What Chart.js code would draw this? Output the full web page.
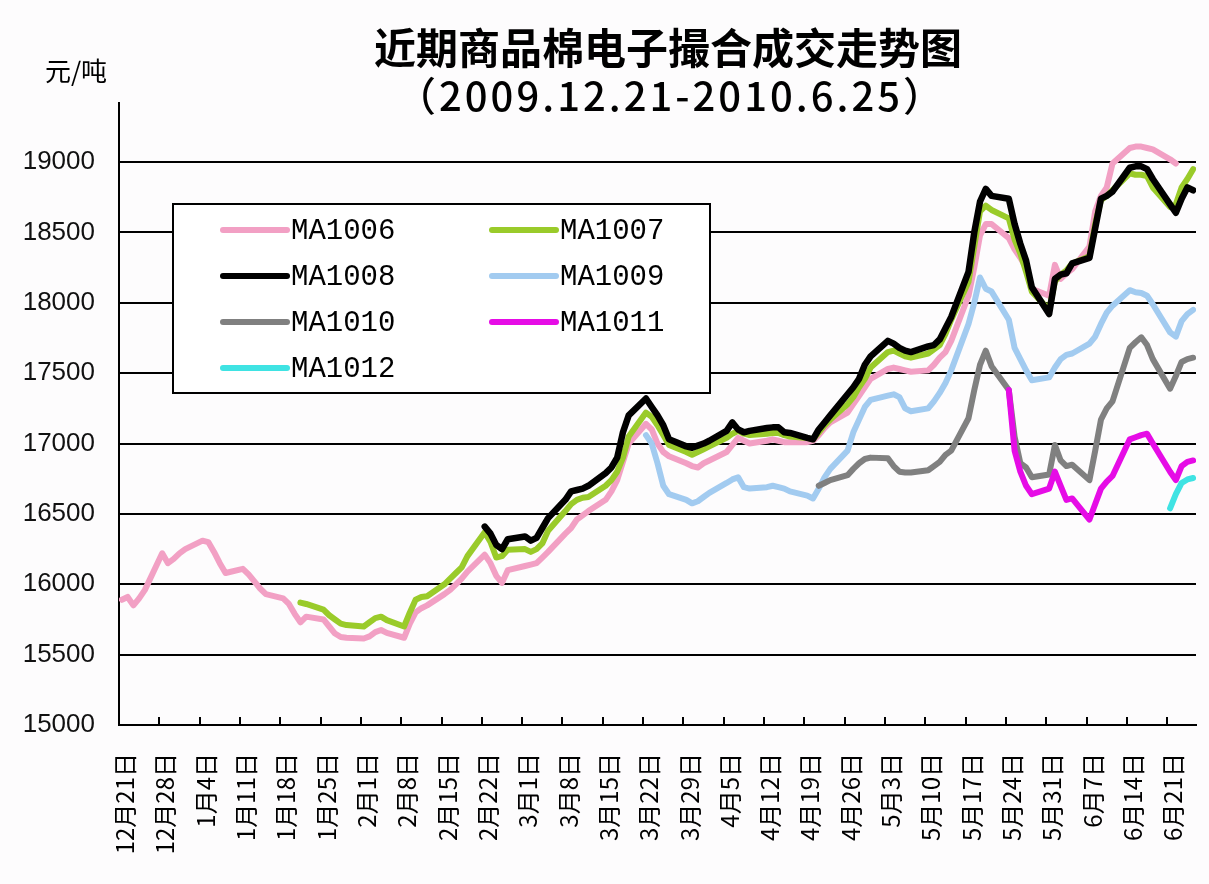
<!DOCTYPE html>
<html>
<head>
<meta charset="utf-8">
<title>近期商品棉电子撮合成交走势图</title>
<script src="https://cdn.jsdelivr.net/npm/chart.js@4.4.1/dist/chart.umd.min.js"></script>
<style>
  html, body { margin: 0; padding: 0; background: #fdfcfd; }
  #wrap { width: 1209px; height: 884px; position: relative; }
</style>
</head>
<body>
<div id="wrap"><canvas id="cotton"></canvas></div>
<script>
// 周一标签（每周5个交易日）
const weekLabels = ['12月21日', '12月28日', '1月4日', '1月11日', '1月18日', '1月25日', '2月1日',
  '2月8日', '2月15日', '2月22日', '3月1日', '3月8日', '3月15日', '3月22日', '3月29日', '4月5日',
  '4月12日', '4月19日', '4月26日', '5月3日', '5月10日', '5月17日', '5月24日', '5月31日',
  '6月7日', '6月14日', '6月21日'];

const yTickLabels = [15000, 15500, 16000, 16500, 17000, 17500, 18000, 18500, 19000];

const seriesNames = ['MA1006', 'MA1007', 'MA1008', 'MA1009', 'MA1010', 'MA1011', 'MA1012'];

function lead(n) { return new Array(n).fill(null); }

// 每行 = 一周（周一至周五），单位 元/吨
const ma1006 = [
  15890, 15910, 15850, 15900, 15960,
  16220, 16150, 16180, 16220, 16250,
  16310, 16300, 16230, 16150, 16080,
  16110, 16070, 16020, 15970, 15930,
  15900, 15860, 15790, 15730, 15770,
  15750, 15700, 15650, 15625, 15620,
  15615, 15630, 15660, 15675, 15655,
  15620, 15720, 15800, 15830, 15850,
  15930, 15960, 16000, 16040, 16090,
  16210, 16150, 16060, 16010, 16100,
  16130, 16140, 16150, 16190, 16230,
  16360, 16400, 16460, 16490, 16520,
  16600, 16660, 16740, 16870, 17000,
  17140, 17100, 17000, 16940, 16910,
  16860, 16840, 16830, 16860, 16880,
  16940, 16990, 17040, 17020, 17000,
  17020, 17030, 17020, 17010, 17010,
  17010, 17020, 17060, 17110, 17150,
  17220, 17280, 17340, 17400, 17460,
  17530, 17540, 17530, 17520, 17510,
  17520, 17560, 17610, 17650, 17730,
  18050, 18250, 18480, 18560, 18560,
  18460, 18380, 18320, 18250, 18100,
  18050, 18270, 18170, 18210, 18240,
  18400, 18650, 18760, 18820, 18990,
  19100, 19110, 19110, 19100, 19090,
  19020, 18990
];

const ma1007 = [
  ...lead(23), 15870, 15860,
  15820, 15780, 15750, 15720, 15710,
  15700, 15730, 15760, 15770, 15745,
  15700, 15800, 15890, 15910, 15915,
  16000, 16040, 16080, 16120, 16200,
  16370, 16300, 16190, 16200, 16245,
  16250, 16230, 16250, 16290, 16380,
  16520, 16570, 16600, 16615, 16620,
  16700, 16740, 16800, 16900, 17050,
  17220, 17190, 17130, 17060, 16990,
  16940, 16920, 16940, 16960, 16980,
  17040, 17070, 17090, 17070, 17060,
  17070, 17075, 17075, 17060, 17050,
  17040, 17030, 17080, 17130, 17170,
  17280, 17330, 17400, 17460, 17540,
  17650, 17660, 17640, 17620, 17610,
  17640, 17670, 17700, 17780, 17880,
  18150, 18400, 18650, 18690, 18660,
  18600, 18450, 18350, 18220, 18080,
  17950, 18150, 18200, 18230, 18280,
  18330, 18560, 18730, 18760, 18800,
  18920, 18910, 18910, 18900, 18820,
  18680, 18700, 18820, 18880, 18950
];

const ma1008 = [
  ...lead(45),
  16410, 16360, 16280, 16250, 16320,
  16340, 16310, 16330, 16400, 16470,
  16600, 16660, 16670, 16680, 16700,
  16790, 16830, 16900, 17080, 17200,
  17320, 17260, 17200, 17130, 17030,
  16980, 16970, 16985, 17000, 17020,
  17090, 17150, 17100, 17080, 17090,
  17110, 17115, 17115, 17080, 17075,
  17040, 17030, 17100, 17150, 17200,
  17350, 17400, 17460, 17560, 17620,
  17730, 17710, 17680, 17660, 17650,
  17690, 17700, 17740, 17820, 17900,
  18220, 18500, 18720, 18810, 18760,
  18740, 18560, 18420, 18300, 18110,
  17920, 18170, 18200, 18210, 18280,
  18320, 18530, 18740, 18760, 18790,
  18960, 18970, 18970, 18950, 18880,
  18700, 18640, 18740, 18820, 18800
];

const ma1009 = [
  ...lead(65),
  17060, 17000, 16860, 16700, 16640,
  16600, 16575, 16590, 16620, 16650,
  16720, 16745, 16760, 16690, 16680,
  16690, 16700, 16690, 16680, 16660,
  16630, 16610, 16680, 16760, 16820,
  16950, 17080, 17170, 17260, 17310,
  17340, 17350, 17330, 17250, 17230,
  17250, 17300, 17360, 17430, 17520,
  17850, 18000, 18180, 18100, 18080,
  17880, 17680, 17600, 17520, 17450,
  17470, 17540, 17600, 17630, 17640,
  17710, 17760, 17850, 17930, 17980,
  18090, 18075, 18070, 18050, 17990,
  17790, 17760, 17870, 17920, 17950
];

const ma1010 = [
  ...lead(87), 16700, 16720, 16740,
  16775, 16820, 16860, 16890, 16900,
  16895, 16840, 16800, 16795, 16795,
  16810, 16840, 16870, 16920, 16950,
  17180, 17380, 17560, 17660, 17550,
  17380, 17050, 16860, 16830, 16760,
  16780, 16990, 16880, 16840, 16850,
  16740, 16950, 17170, 17250, 17300,
  17680, 17720, 17755, 17700, 17600,
  17390, 17480, 17580, 17600, 17610
];

const ma1011 = [
  ...lead(110),
  17380, 16950, 16800, 16700, 16640,
  16680, 16800, 16700, 16600, 16610,
  16460, 16570, 16680, 16730, 16770,
  17030, 17045, 17060, 17070, 17000,
  16800, 16740, 16840, 16870, 16880
];

const ma1012 = [
  ...lead(130),
  16540, 16640, 16720, 16745, 16755
];

const seriesValues = [ma1006, ma1007, ma1008, ma1009, ma1010, ma1011, ma1012];

// 日历日偏移（自 2009-12-21 起），用于日期轴
const tradingDays = [];
weekLabels.forEach((_, w) => {
  for (let d = 0; d < 5; d++) tradingDays.push(w * 7 + d);
});

const lineColors = ['#f2a0c4', '#9acb2a', '#000000', '#a2cbf0', '#808080', '#e60ce6', '#3fe3e3'];

const datasets = seriesNames.map((name, i) => ({
  label: name,
  data: seriesValues[i].map((v, k) => ({ x: tradingDays[k], y: v })),
  borderColor: lineColors[i],
  backgroundColor: lineColors[i],
  borderWidth: i === 2 ? 6.5 : 6,
  pointRadius: 0,
  tension: 0,
  fill: false,
  spanGaps: false,
  borderJoinStyle: 'round',
  borderCapStyle: 'round',
  order: seriesNames.length - i
}));

// 标题与单位
const headerText = {
  id: 'headerText',
  afterDraw(chart) {
    const ctx = chart.ctx;
    ctx.save();
    ctx.fillStyle = '#000';
    ctx.textAlign = 'center';
    ctx.textBaseline = 'middle';
    ctx.font = 'bold 42px "Noto Sans CJK SC"';
    ctx.fillText('近期商品棉电子撮合成交走势图', 668, 48);
    ctx.font = '500 40px "Noto Sans CJK SC"';
    ctx.letterSpacing = '3px';
    ctx.fillText('（2009.12.21-2010.6.25）', 671, 96);
    ctx.letterSpacing = '0px';
    ctx.font = '26px "Noto Sans CJK SC"';
    ctx.fillText('元/吨', 76, 71);
    ctx.restore();
  }
};

// 坐标轴内侧刻度线
const innerTicks = {
  id: 'innerTicks',
  afterDraw(chart) {
    const xs = chart.scales.x, area = chart.chartArea, ctx = chart.ctx;
    ctx.save();
    ctx.strokeStyle = '#000';
    ctx.lineWidth = 2;
    xs.ticks.forEach(t => {
      const px = Math.round(xs.getPixelForValue(t.value));
      ctx.beginPath();
      ctx.moveTo(px, area.bottom - 8);
      ctx.lineTo(px, area.bottom);
      ctx.stroke();
    });
    ctx.restore();
  }
};

// 图例框（两列）
const legendBox = {
  id: 'legendBox',
  afterDatasetsDraw(chart) {
    const ctx = chart.ctx;
    ctx.save();
    ctx.fillStyle = '#ffffff';
    ctx.fillRect(173, 204, 537, 189);
    ctx.strokeStyle = '#000';
    ctx.lineWidth = 2;
    ctx.strokeRect(173, 204, 537, 189);
    ctx.font = '29px "Liberation Mono"';
    ctx.textBaseline = 'middle';
    ctx.textAlign = 'left';
    chart.data.datasets.forEach((ds, i) => {
      const col = i % 2, row = Math.floor(i / 2);
      const lx = col ? 492 : 223;
      const y = 230 + row * 46;
      ctx.strokeStyle = ds.borderColor;
      ctx.lineWidth = 6;
      ctx.lineCap = 'round';
      ctx.beginPath();
      ctx.moveTo(lx, y);
      ctx.lineTo(lx + 64, y);
      ctx.stroke();
      ctx.fillStyle = '#000';
      ctx.fillText(ds.label, lx + 68, y + 1);
    });
    ctx.restore();
  }
};

new Chart(document.getElementById('cotton'), {
  type: 'line',
  data: { datasets },
  options: {
    responsive: true,
    maintainAspectRatio: false,
    animation: false,
    events: [],
    layout: { padding: { top: 103, left: 0, right: 13, bottom: 9 } },
    plugins: {
      legend: { display: false },
      tooltip: { enabled: false },
      title: { display: false }
    },
    scales: {
      x: {
        type: 'linear',
        min: -0.5,
        max: 186.5,
        afterBuildTicks: s => { s.ticks = weekLabels.map((_, i) => ({ value: i * 7 - 0.5 })); },
        afterFit: s => { s.height = 150; s.paddingLeft = 0; s.paddingRight = 0; },
        ticks: {
          autoSkip: false,
          minRotation: 90,
          maxRotation: 90,
          labelOffset: 6,
          padding: 28,
          color: '#000',
          font: { family: '"Noto Sans CJK SC"', size: 24 },
          callback: (v, i) => weekLabels[i]
        },
        grid: { display: false, drawTicks: false },
        border: { display: true, color: '#000', width: 2 }
      },
      y: {
        min: 15000,
        max: 19420,
        afterBuildTicks: s => { s.ticks = yTickLabels.map(v => ({ value: v })); },
        afterFit: s => { s.width = 119; s.paddingTop = 0; s.paddingBottom = 0; },
        ticks: {
          padding: 24,
          color: '#111',
          font: { family: '"Liberation Sans"', size: 26 },
          callback: v => String(v)
        },
        grid: { color: '#000', lineWidth: 2, drawTicks: false },
        border: { display: true, color: '#000', width: 2 }
      }
    }
  },
  plugins: [headerText, innerTicks, legendBox]
});
</script>
</body>
</html>
